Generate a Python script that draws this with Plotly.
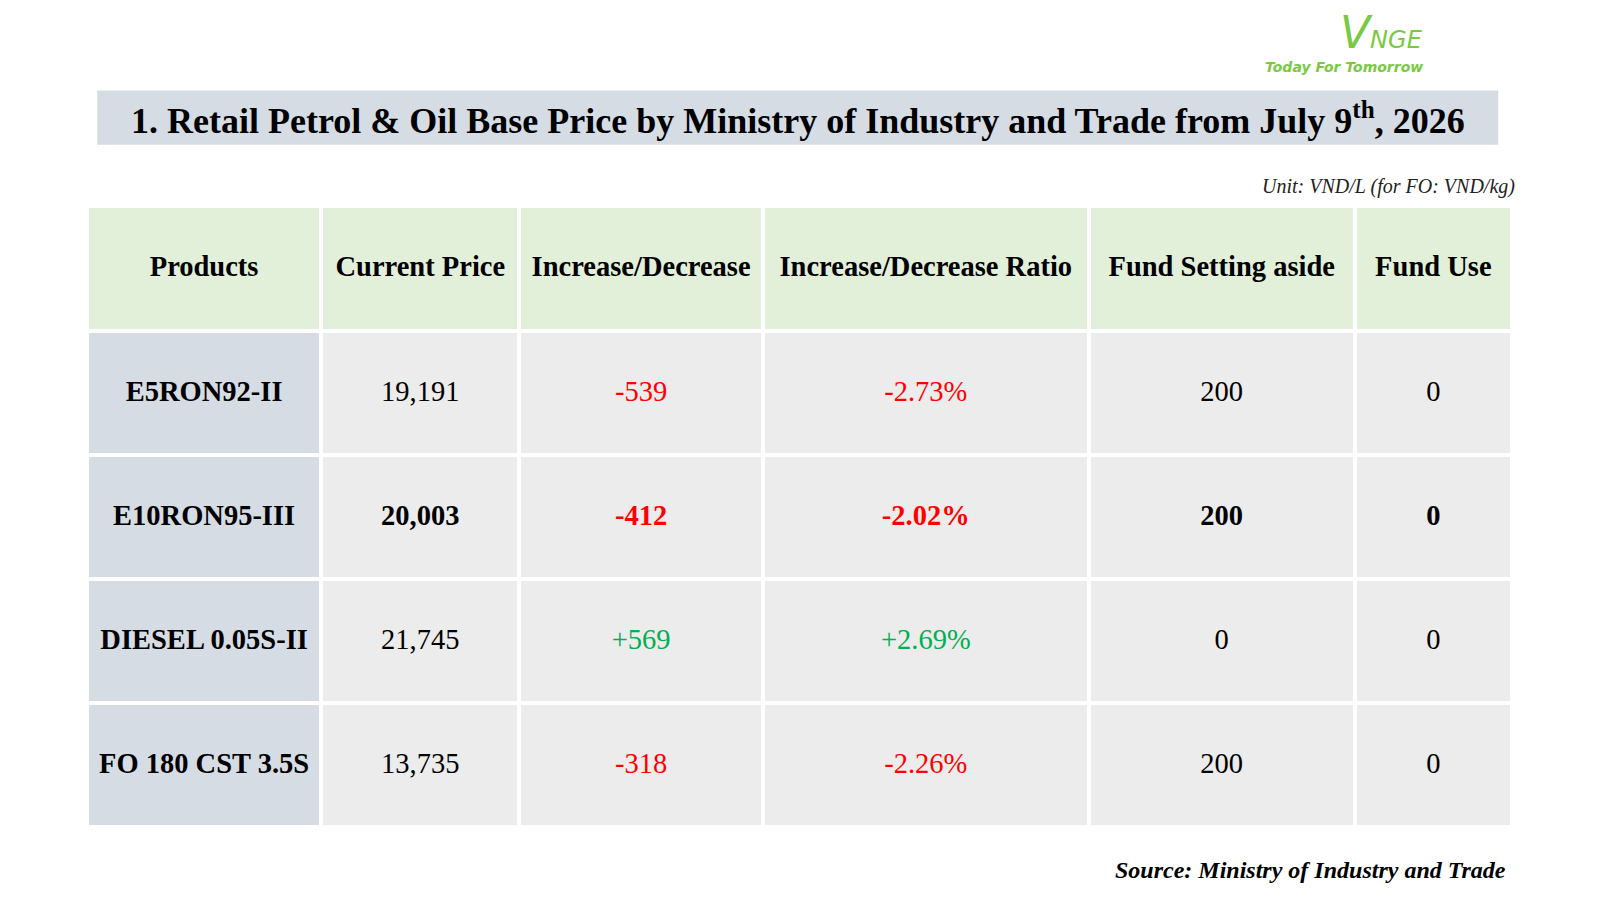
import plotly.graph_objects as go

headers = ['Products', 'Current Price', 'Increase/Decrease', 'Increase/Decrease Ratio', 'Fund Setting aside', 'Fund Use']
products = ['E5RON92-II', 'E10RON95-III', 'DIESEL 0.05S-II', 'FO 180 CST 3.5S']
prices = ['19,191', '20,003', '21,745', '13,735']
changes = ['-539', '-412', '+569', '-318']
ratios = ['-2.73%', '-2.02%', '+2.69%', '-2.26%']
fund_aside = ['200', '200', '0', '200']
fund_use = ['0', '0', '0', '0']
bold_row = 1

RED, GREEN = '#ff0000', '#00b050'
PAD = '&nbsp;<br>'

# page offset / size measured from the rendered screenshot
def px_x(v): return (v - 9.7) / 1549
def px_y(v): return 1 - (v - 11.7) / 877

def fmt(vals):
    return [PAD + ('<b>%s</b>' % v if i == bold_row else v) for i, v in enumerate(vals)]

chg_colors = [GREEN if c.startswith('+') else RED for c in changes]
cols = [products, prices, changes, ratios, fund_aside, fund_use]
values = [[PAD + '<b>%s</b>' % p for p in products]] + [fmt(c) for c in cols[1:]]
font_colors = ['black', 'black', chg_colors, chg_colors, 'black', 'black']
fills = ['#d6dce4'] + ['#ececec'] * 5

fig = go.Figure(go.Table(
    domain=dict(x=[px_x(87), px_x(1481)], y=[px_y(815), px_y(205)]),
    columnwidth=[229, 194, 238, 319, 260, 154],
    header=dict(values=[PAD + '<b>%s</b>' % h for h in headers],
                fill_color='#e2efd9', line=dict(color='white', width=4),
                font=dict(family='Liberation Serif', size=28.5, color='black'),
                align='center', height=125),
    cells=dict(values=values, fill_color=fills,
               line=dict(color='white', width=4),
               font=dict(family='Liberation Serif', size=28.5, color=font_colors),
               align='center', height=124),
))

fig.add_shape(type='rect', xref='paper', yref='paper',
              x0=px_x(97), x1=px_x(1467), y0=px_y(145), y1=px_y(92),
              fillcolor='#d6dce4', line=dict(width=0), layer='below')
fig.add_annotation(x=px_x(782), y=px_y(119), xref='paper', yref='paper', showarrow=False,
                   yanchor='middle',
                   text='<b>1. Retail Petrol &amp; Oil Base Price by Ministry of Industry and Trade from July 9<sup>th</sup>, 2026</b>',
                   font=dict(family='Liberation Serif', size=36, color='black'))
fig.add_annotation(x=px_x(1485), y=px_y(186), xref='paper', yref='paper', showarrow=False,
                   xanchor='right', yanchor='middle', text='<i>Unit: VND/L (for FO: VND/kg)</i>',
                   font=dict(family='Liberation Serif', size=20, color='#222'))
fig.add_annotation(x=px_x(1477), y=px_y(852), xref='paper', yref='paper', showarrow=False,
                   xanchor='right', yanchor='middle', text='<b><i>Source: Ministry of Industry and Trade</i></b>',
                   font=dict(family='Liberation Serif', size=24, color='black'))
fig.add_annotation(x=px_x(1395), y=px_y(36), xref='paper', yref='paper', showarrow=False,
                   yanchor='middle',
                   text='<i><span style="font-size:44px">V</span>NGE</i>',
                   font=dict(family='DejaVu Sans', size=24, color='#7ac943'))
fig.add_annotation(x=px_x(1395), y=px_y(69), xref='paper', yref='paper', showarrow=False,
                   yanchor='middle', text='<b><i>Today For Tomorrow</i></b>',
                   font=dict(family='DejaVu Sans', size=14, color='#7ac943'))

fig.update_layout(autosize=True, margin=dict(l=0, r=0, t=0, b=0),
                  paper_bgcolor='white', plot_bgcolor='white')
fig.write_html('out.html', default_width='100%', default_height='100vh')
